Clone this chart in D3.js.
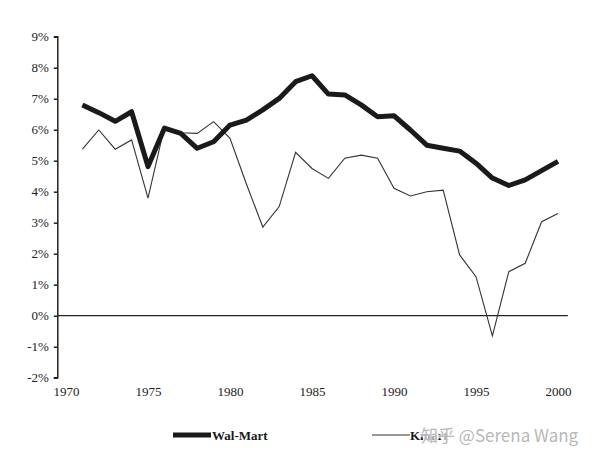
<!DOCTYPE html>
<html>
<head>
<meta charset="utf-8">
<script src="https://cdn.jsdelivr.net/npm/d3@7"></script>
<style>
body { margin: 0; background: #fff; }
svg { display: block; }
</style>
</head>
<body>
<svg id="chart" width="600" height="463"></svg>
<script>
const years = [1971,1972,1973,1974,1975,1976,1977,1978,1979,1980,1981,1982,1983,1984,1985,1986,1987,1988,1989,1990,1991,1992,1993,1994,1995,1996,1997,1998,1999,2000];
const walmart = [6.8,6.55,6.27,6.58,4.81,6.05,5.88,5.4,5.61,6.15,6.31,6.64,7.01,7.55,7.74,7.15,7.12,6.8,6.42,6.45,5.99,5.5,5.4,5.31,4.92,4.44,4.2,4.38,4.68,4.98];
const kmart = [5.37,5.99,5.37,5.67,3.79,6.08,5.9,5.88,6.26,5.72,4.25,2.86,3.52,5.27,4.75,4.43,5.08,5.18,5.08,4.11,3.86,4.0,4.05,1.96,1.26,-0.65,1.42,1.69,3.03,3.3];
const yTicks = [9,8,7,6,5,4,3,2,1,0,-1,-2];
const xTicks = [1970,1975,1980,1985,1990,1995,2000];
const seriesNames = ["Wal-Mart", "Kmart"];

const svg = d3.select("#chart");
const x = d3.scaleLinear().domain([1970, 2000]).range([66, 558]);
const y = d3.scaleLinear().domain([-2, 9]).range([377.7, 36.7]);
const font = "'Liberation Serif', 'Times New Roman', serif";

// y axis
const yAxis = d3.axisLeft(y).tickValues(yTicks).tickSize(4).tickFormat(d => d + "%");
const gy = svg.append("g").attr("transform", `translate(${x(1969.5)},0)`).call(yAxis);
gy.select(".domain").attr("stroke", "#222").attr("stroke-width", 1.5).attr("d", `M-4,${y(9)}H0V${y(-2)}H-4`);
gy.selectAll(".tick line").attr("stroke", "#222").attr("stroke-width", 1.5);
gy.selectAll(".tick text").attr("font-family", font).attr("font-size", 13).attr("fill", "#222").attr("x", -9);

// x axis labels (no line)
const xAxis = d3.axisBottom(x).tickValues(xTicks).tickSize(0).tickFormat(d3.format("d"));
const gx = svg.append("g").attr("transform", `translate(0,${y(-2)})`).call(xAxis);
gx.select(".domain").remove();
gx.selectAll(".tick text").attr("font-family", font).attr("font-size", 13).attr("fill", "#222").attr("dy", "1.15em");

// zero line
svg.append("line").attr("x1", x(1969.5)).attr("x2", x(2000.6)).attr("y1", y(0)).attr("y2", y(0))
  .attr("stroke", "#222").attr("stroke-width", 1.3);

const line = d3.line().x(d => x(d[0])).y(d => y(d[1]));
svg.append("path").datum(years.map((yr, i) => [yr, kmart[i]]))
  .attr("d", line).attr("fill", "none").attr("stroke", "#333").attr("stroke-width", 1.1).attr("stroke-linejoin", "miter");
svg.append("path").datum(years.map((yr, i) => [yr, walmart[i]]))
  .attr("d", line).attr("fill", "none").attr("stroke", "#1a1a1a").attr("stroke-width", 5).attr("stroke-linejoin", "round");

// legend
const lg = svg.append("g");
lg.append("line").attr("x1", 173).attr("x2", 211).attr("y1", 435).attr("y2", 435).attr("stroke", "#1a1a1a").attr("stroke-width", 5);
lg.append("text").attr("x", 212).attr("y", 439.5).text(seriesNames[0])
  .attr("font-family", font).attr("font-size", 13).attr("font-weight", "bold").attr("fill", "#1a1a1a");
lg.append("line").attr("x1", 372).attr("x2", 410).attr("y1", 435).attr("y2", 435).attr("stroke", "#333").attr("stroke-width", 1.1);
lg.append("text").attr("x", 410).attr("y", 439.5).text(seriesNames[1])
  .attr("font-family", font).attr("font-size", 13).attr("font-weight", "bold").attr("fill", "#1a1a1a");

// watermark
svg.append("text").attr("x", 421).attr("y", 441.5).text("知乎 @Serena Wang")
  .attr("font-family", "'Noto Sans CJK SC', 'Noto Sans', sans-serif").attr("font-size", 17)
  .attr("fill", "#b8b8b8").attr("stroke", "#fff").attr("stroke-width", 2.5).attr("stroke-opacity", 0.7)
  .attr("paint-order", "stroke");
</script>
</body>
</html>
